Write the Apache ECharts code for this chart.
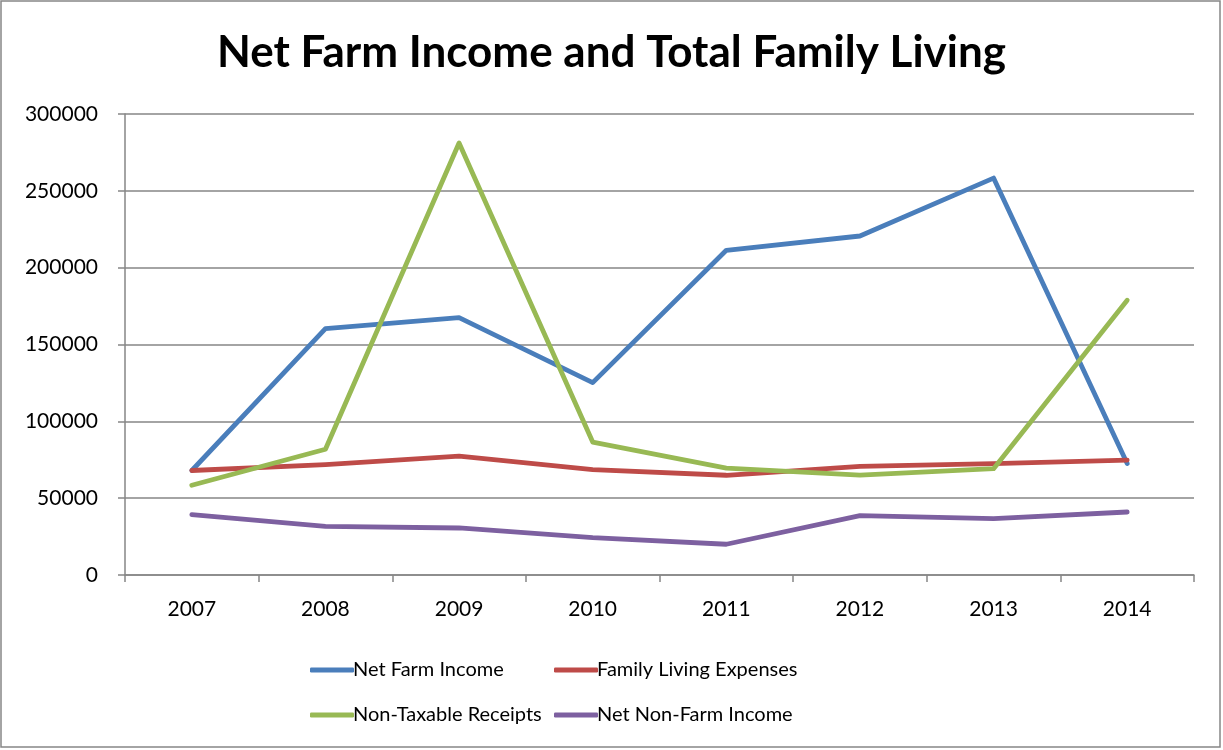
<!DOCTYPE html>
<html>
<head>
<meta charset="utf-8">
<script src="https://cdn.jsdelivr.net/npm/echarts@6/dist/echarts.min.js"></script>
<style>
    html, body { margin: 0; padding: 0; background: #fff; }
    #chart { width: 1223px; height: 750px; }
</style>
</head>
<body>
<div id="chart"></div>
<script>
    // 年份
    const years = ['2007', '2008', '2009', '2010', '2011', '2012', '2013', '2014'];
    const netFarmIncome = [68000, 160300, 167500, 125200, 211300, 220600, 258300, 72500];
    const familyLiving = [68000, 71800, 77400, 68600, 64900, 70700, 72500, 74800];
    const nonTaxable = [58400, 81800, 281100, 86500, 69600, 65000, 69200, 178800];
    const netNonFarm = [39300, 31700, 30600, 24300, 20000, 38600, 36700, 41000];
    const yTicks = [0, 50000, 100000, 150000, 200000, 250000, 300000];

    const font = 'Lato';
    const axisGrey = '#868686';

    function line(name, data, color) {
        return {
            name: name,
            type: 'line',
            data: data,
            showSymbol: false,
            symbol: 'none',
            lineStyle: { color: color, width: 4.8, cap: 'round', join: 'round' },
            itemStyle: { color: color },
            animation: false
        };
    }

    function legendStyle(left, data) {
        return {
            data: data,
            orient: 'vertical',
            left: left,
            top: 655,
            itemWidth: 44,
            itemHeight: 5,
            itemGap: 25,
            icon: 'roundRect',
            textStyle: { fontFamily: font, fontSize: 20, color: '#000', padding: [0, 0, 0, -6] }
        };
    }

    let chart = echarts.init(document.getElementById('chart'));
    let option = {
        backgroundColor: '#fff',
        animation: false,
        title: {
            text: 'Net Farm Income and Total Family Living',
            left: 'center',
            top: 26,
            textStyle: { fontFamily: font, fontWeight: 'bold', fontSize: 44, color: '#000' }
        },
        graphic: [{
            type: 'rect',
            shape: { x: 1, y: 1, width: 1219, height: 746 },
            style: { fill: 'none', stroke: axisGrey, lineWidth: 1.5 },
            silent: true
        }],
        legend: [
            legendStyle(305, ['Net Farm Income', 'Non-Taxable Receipts']),
            legendStyle(549, ['Family Living Expenses', 'Net Non-Farm Income'])
        ],
        grid: { left: 125, right: 29, top: 114, height: 461 },
        xAxis: {
            type: 'category',
            data: years,
            boundaryGap: true,
            axisLine: { lineStyle: { color: axisGrey, width: 1.5 } },
            axisTick: { show: true, length: 7, lineStyle: { color: axisGrey, width: 1.5 } },
            axisLabel: { fontFamily: font, fontSize: 21, color: '#000', margin: 24 },
            splitLine: { show: false }
        },
        yAxis: {
            type: 'value',
            min: yTicks[0],
            max: yTicks[yTicks.length - 1],
            interval: 50000,
            axisLine: { show: true, lineStyle: { color: axisGrey, width: 1.5 } },
            axisTick: { show: true, length: 7, lineStyle: { color: axisGrey, width: 1.5 } },
            axisLabel: {
                fontFamily: font, fontSize: 21, color: '#000', margin: 27,
                formatter: (v) => String(v)
            },
            splitLine: { show: true, lineStyle: { color: axisGrey, width: 1.5 } }
        },
        series: [
            line('Net Farm Income', netFarmIncome, '#4A7EBB'),
            line('Family Living Expenses', familyLiving, '#BE4B48'),
            line('Non-Taxable Receipts', nonTaxable, '#98B954'),
            line('Net Non-Farm Income', netNonFarm, '#7D60A0')
        ]
    };

    chart.setOption(option);
</script>
</body>
</html>
